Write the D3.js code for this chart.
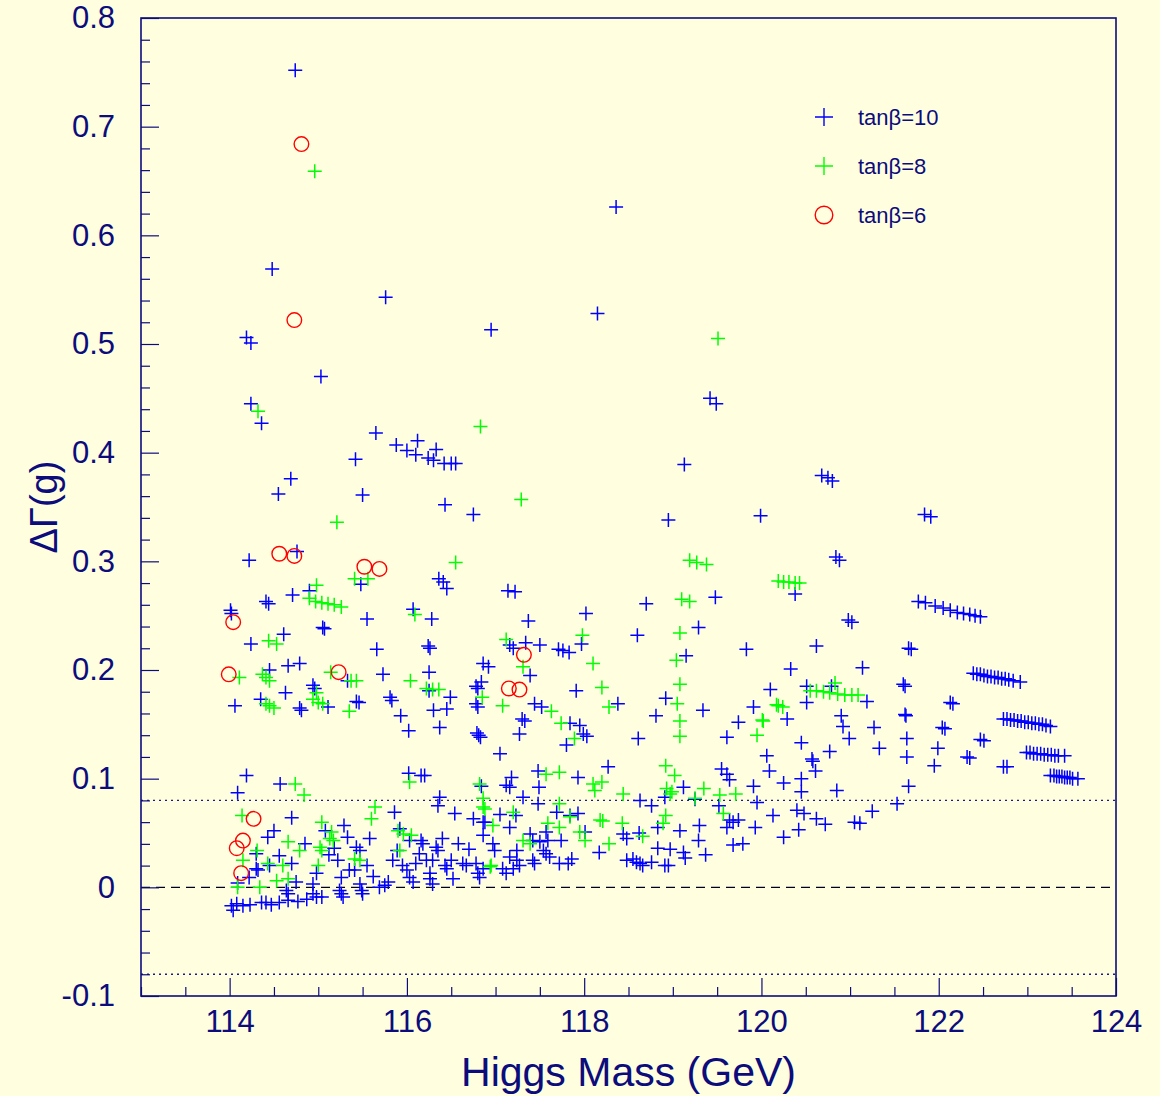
<!DOCTYPE html>
<html>
<head>
<meta charset="utf-8">
<script src="https://cdn.jsdelivr.net/npm/d3@7"></script>
<style>
  body { margin: 0; background: #ffffe0; }
  svg { display: block; font-family: "Liberation Sans", Arial, Helvetica, sans-serif; }
</style>
</head>
<body>
<svg id="chart" width="1160" height="1096"></svg>
<script>
// tan(beta)=10 points: [Higgs mass (GeV), Delta Gamma(g)]
const tb10 = [
  [114.74,0.752],[114.48,0.569],[118.36,0.626],[115.76,0.543],[118.15,0.528],[116.95,0.513],
  [114.19,0.506],[114.24,0.501],[115.03,0.470],[114.24,0.445],[114.36,0.427],[119.42,0.450],[119.49,0.445],
  [115.65,0.418],[115.88,0.407],[116.00,0.402],[116.12,0.411],[116.10,0.398],[116.24,0.395],[116.30,0.393],
  [116.33,0.403],[116.42,0.390],[116.50,0.390],[116.55,0.390],[115.42,0.394],[114.69,0.376],[114.55,0.362],
  [115.50,0.361],[119.13,0.389],[118.95,0.338],[119.99,0.342],[120.68,0.379],[120.75,0.377],[120.80,0.374],
  [121.84,0.343],[121.91,0.341],[116.43,0.352],[116.75,0.343],[114.76,0.309],[114.22,0.301],[115.48,0.279],
  [116.36,0.284],[116.41,0.281],[116.45,0.275],[114.90,0.273],[114.01,0.255],[114.02,0.252],[114.41,0.263],
  [114.44,0.261],[114.71,0.269],[115.05,0.239],[115.07,0.238],[115.55,0.247],[116.07,0.256],[116.28,0.247],
  [114.61,0.233],[114.24,0.224],[115.66,0.219],[116.24,0.222],[116.26,0.220],[116.86,0.206],[116.92,0.203],
  [114.45,0.200],[114.66,0.204],[114.79,0.206],[115.33,0.190],[115.73,0.196],[116.25,0.198],[116.25,0.181],
  [116.84,0.189],[116.78,0.185],[116.80,0.183],[116.49,0.175],[114.94,0.186],[114.96,0.183],[114.63,0.179],
  [114.35,0.173],[114.06,0.167],[115.11,0.166],[114.81,0.163],[114.79,0.165],[115.43,0.171],[115.46,0.170],
  [115.81,0.175],[115.83,0.172],[115.93,0.158],[116.02,0.144],[116.37,0.147],[116.30,0.163],[116.45,0.164],
  [116.81,0.140],[116.79,0.142],[116.83,0.138],[116.78,0.169],[116.80,0.166],[117.14,0.273],[117.22,0.272],
  [118.70,0.261],[119.48,0.267],[118.02,0.252],[117.37,0.245],[118.60,0.232],[119.29,0.239],[117.97,0.224],
  [117.16,0.223],[117.20,0.220],[117.34,0.225],[117.50,0.223],[117.71,0.219],[117.76,0.218],[117.83,0.216],
  [119.83,0.219],[119.15,0.213],[117.39,0.195],[117.91,0.181],[120.10,0.182],[118.92,0.174],[118.38,0.169],
  [119.91,0.166],[117.44,0.169],[117.52,0.166],[119.34,0.163],[118.81,0.158],[117.30,0.155],[117.33,0.153],
  [117.84,0.151],[117.95,0.149],[119.74,0.152],[117.27,0.141],[117.99,0.141],[118.03,0.139],[118.61,0.137],
  [119.61,0.138],[117.80,0.131],[121.02,0.244],[120.98,0.246],[120.62,0.222],[121.66,0.220],[121.69,0.219],
  [120.33,0.201],[121.14,0.202],
  [122.39,0.197],[122.43,0.196],[122.47,0.196],[122.51,0.195],[122.55,0.194],[122.59,0.194],[122.63,0.193],
  [122.67,0.193],[122.71,0.192],[122.75,0.192],[122.79,0.191],[122.84,0.190],[122.92,0.189],
  [120.51,0.185],[120.79,0.185],[120.51,0.170],[121.19,0.171],[121.60,0.187],[121.62,0.185],[122.13,0.170],
  [122.16,0.169],[120.29,0.155],[120.90,0.158],[120.92,0.148],[121.62,0.159],[121.63,0.158],[122.04,0.147],
  [122.07,0.146],
  [122.73,0.155],[122.77,0.155],[122.81,0.154],[122.85,0.154],[122.89,0.153],[122.93,0.153],[122.97,0.152],
  [123.01,0.152],[123.05,0.151],[123.09,0.151],[123.13,0.150],[123.17,0.150],[123.21,0.149],[123.26,0.148],
  [121.27,0.147],[120.99,0.137],[121.64,0.137],[120.45,0.133],[122.47,0.136],[122.51,0.135],[121.99,0.128],
  [121.33,0.128],[120.77,0.125],[120.06,0.121],
  [122.99,0.124],[123.03,0.124],[123.07,0.123],[123.11,0.123],[123.15,0.123],[123.19,0.122],[123.23,0.122],
  [123.27,0.122],[123.31,0.121],[123.35,0.121],[123.42,0.121],
  [120.57,0.118],[120.58,0.116],[122.32,0.120],[122.35,0.119],[121.64,0.120],[121.95,0.112],[122.73,0.111],
  [122.77,0.111],[120.09,0.107],[120.61,0.107],
  [123.26,0.103],[123.30,0.103],[123.33,0.102],[123.36,0.102],[123.39,0.102],[123.42,0.101],[123.45,0.101],
  [123.48,0.101],[123.51,0.100],[123.57,0.100],
  [120.45,0.100],[120.25,0.096],[121.66,0.093],[120.45,0.088],[120.85,0.089],[121.53,0.077],[121.25,0.070],
  [120.13,0.066],[120.40,0.071],[120.48,0.068],[120.62,0.063],[120.72,0.058],[121.05,0.060],[121.11,0.059],
  [120.42,0.053],[120.25,0.046],[120.84,0.304],[120.88,0.301],[120.38,0.270],
  [121.77,0.263],[121.85,0.262],[121.96,0.259],[122.05,0.257],[122.13,0.255],[122.21,0.253],[122.28,0.252],
  [122.35,0.251],[122.41,0.250],[122.47,0.249],
  [117.05,0.123],[118.27,0.111],[119.55,0.109],[119.61,0.104],[119.64,0.099],[117.48,0.107],[117.93,0.101],
  [117.18,0.101],[117.12,0.094],[117.16,0.092],[117.49,0.092],[119.12,0.092],[119.91,0.093],[117.31,0.083],
  [118.91,0.083],[119.25,0.081],[118.63,0.080],[117.48,0.077],[118.76,0.075],[119.52,0.075],[119.95,0.078],
  [117.69,0.069],[117.93,0.068],[117.84,0.066],[117.23,0.066],[119.64,0.062],[119.68,0.060],[119.74,0.062],
  [117.05,0.067],[116.88,0.060],[118.83,0.055],[119.30,0.057],[117.16,0.055],[119.61,0.055],[119.93,0.055],
  [118.01,0.051],[118.44,0.049],[118.48,0.045],[118.62,0.050],[119.08,0.052],[117.39,0.049],[117.42,0.043],
  [117.57,0.051],[117.59,0.043],[117.74,0.043],[119.29,0.043],[119.68,0.039],[119.79,0.040],[117.50,0.042],
  [117.54,0.034],[116.97,0.040],[116.99,0.034],[117.24,0.034],[118.83,0.036],[118.97,0.035],[119.12,0.032],
  [119.14,0.027],[118.17,0.032],[119.37,0.030],[117.57,0.031],[117.61,0.028],[117.16,0.028],[118.48,0.025],
  [118.55,0.026],[118.59,0.023],[117.86,0.026],[117.82,0.022],[117.72,0.022],[117.42,0.025],[117.44,0.022],
  [117.24,0.025],[117.27,0.020],[118.63,0.022],[118.66,0.020],[118.76,0.023],[118.91,0.020],[118.95,0.020],
  [117.08,0.017],[117.12,0.013],[117.20,0.017],[116.86,0.017],
  [114.19,0.103],[114.09,0.087],[114.57,0.095],[114.70,0.064],[114.43,0.046],[114.56,0.029],[114.70,0.022],
  [114.30,0.017],[114.22,0.009],[114.09,0.004],[114.75,0.005],[114.30,0.031],[114.45,0.020],[114.32,0.016],
  [114.02,-0.017],[114.08,-0.015],[114.15,-0.017],[114.23,-0.016],[114.36,-0.014],[114.41,-0.014],
  [114.47,-0.016],[114.56,-0.014],[114.66,-0.012],[114.77,-0.013],[114.87,-0.011],[114.04,-0.021],
  [114.64,-0.003],[114.66,-0.006],[114.94,-0.006],[114.98,-0.009],[115.04,-0.009],[114.94,0.003],[114.98,0.013],
  [115.29,0.057],[115.18,0.036],[115.22,0.025],[115.24,-0.003],[115.26,-0.006],[115.28,-0.009],[115.26,0.009],
  [115.43,0.037],[115.47,0.034],[115.35,0.016],[115.41,0.016],[115.47,0.003],[115.49,-0.003],[115.50,-0.006],
  [115.69,0.000],[115.75,0.002],[115.79,0.005],[115.58,0.045],[115.86,0.069],[115.92,0.054],[115.89,0.034],
  [115.84,0.025],[116.00,0.016],[116.03,0.009],[116.07,0.005],[116.03,0.043],[116.16,0.043],[116.18,0.040],
  [116.33,0.037],[116.35,0.034],[116.37,0.083],[116.35,0.075],[116.02,0.105],[116.16,0.103],[116.20,0.103],
  [116.54,0.068],[116.75,0.063],[116.86,0.060],[116.84,0.093],[116.86,0.048],[116.14,0.031],[116.22,0.025],
  [116.29,0.025],[116.26,0.013],[116.43,0.020],[116.45,0.017],[116.50,0.025],[116.63,0.022],[116.67,0.020],
  [116.78,0.022],[116.80,0.013],[116.82,0.009],[116.52,0.008],[116.26,0.008],[116.29,0.003],
  [115.12,0.030],[115.33,0.046],[115.55,0.020],[115.62,0.010],[115.95,0.020],[116.10,0.022],[116.40,0.045],
  [116.58,0.040],[116.70,0.035],[115.08,0.052],[114.85,0.040],[114.50,0.052]
];

// tan(beta)=8 points
const tb8 = [
  [114.96,0.659],[114.32,0.438],[116.83,0.424],[117.29,0.357],[115.21,0.336],[116.55,0.299],[115.41,0.284],
  [115.56,0.284],[114.98,0.278],[114.90,0.266],[114.97,0.263],[115.04,0.262],[115.11,0.261],[115.18,0.260],
  [115.26,0.258],[116.09,0.251],[114.44,0.227],[114.53,0.224],[114.11,0.193],[114.37,0.196],[114.41,0.193],
  [114.45,0.190],[115.14,0.198],[115.37,0.190],[115.43,0.190],[116.04,0.190],[116.22,0.183],[116.29,0.182],
  [116.36,0.182],[116.85,0.175],[114.98,0.179],[114.41,0.169],[114.45,0.167],[114.50,0.165],[114.94,0.173],
  [115.00,0.170],[115.05,0.169],[115.35,0.162],[119.51,0.505],[119.19,0.301],[119.27,0.299],[119.38,0.297],
  [120.19,0.282],[120.25,0.281],[120.31,0.281],[120.38,0.280],[120.43,0.280],[119.10,0.265],[119.19,0.263],
  [119.08,0.234],[117.98,0.232],[117.12,0.228],[119.04,0.209],[118.10,0.206],[117.31,0.203],[118.20,0.184],
  [119.08,0.187],[119.05,0.169],[118.28,0.166],[120.17,0.168],[117.63,0.162],[117.08,0.167],[119.08,0.153],
  [117.74,0.151],[120.01,0.154],[119.08,0.139],[119.95,0.140],[117.89,0.137],[120.55,0.181],[120.62,0.181],
  [120.70,0.180],[120.77,0.179],[120.86,0.178],[120.94,0.177],[121.02,0.177],[121.09,0.177],[120.83,0.188],
  [120.19,0.167],[120.24,0.166],[120.02,0.153],[118.92,0.112],[119.02,0.103],[117.57,0.104],[117.72,0.106],
  [118.10,0.095],[118.20,0.097],[118.12,0.089],[118.93,0.091],[118.99,0.088],[118.97,0.086],[119.35,0.091],
  [118.44,0.086],[119.53,0.085],[119.71,0.086],[119.25,0.082],[117.72,0.077],[116.86,0.074],[119.57,0.068],
  [117.20,0.069],[118.92,0.066],[117.84,0.065],[118.18,0.062],[118.21,0.061],[117.59,0.059],[116.97,0.057],
  [118.43,0.059],[118.89,0.059],[117.72,0.055],[117.95,0.051],[118.01,0.043],[118.66,0.047],[117.31,0.043],
  [117.39,0.040],[118.28,0.040],[116.94,0.019],[114.74,0.095],[114.84,0.085],[114.14,0.066],[114.66,0.042],
  [114.31,0.034],[114.79,0.034],[114.15,0.025],[114.43,0.022],[114.60,0.020],[114.66,0.008],[114.09,0.000],
  [114.34,0.000],[114.53,0.006],[115.00,0.020],[115.02,0.037],[115.04,0.034],[115.13,0.045],[115.17,0.043],
  [115.04,0.060],[115.15,0.051],[115.64,0.074],[115.60,0.063],[115.41,0.026],[115.47,0.025],[115.90,0.052],
  [115.96,0.049],[115.92,0.034],[116.05,0.048],[116.03,0.097],[116.82,0.095],[116.86,0.082],[116.88,0.072],
  [116.95,0.020]
];

// tan(beta)=6 points
const tb6 = [
  [114.81,0.684],[114.73,0.522],[114.56,0.307],[114.73,0.305],[115.52,0.295],[115.69,0.293],[114.04,0.244],
  [113.99,0.196],[115.23,0.198],[117.32,0.214],[117.15,0.183],[117.27,0.182],[114.27,0.063],[114.15,0.043],
  [114.08,0.036],[114.13,0.013]
];

const xMajor = [114, 116, 118, 120, 122, 124];
const yMajor = [-0.1, 0, 0.1, 0.2, 0.3, 0.4, 0.5, 0.6, 0.7, 0.8];
const legendLabels = ["tanβ=10", "tanβ=8", "tanβ=6"];

const navy = "#0c0c7c";
const svg = d3.select("#chart");

const x = d3.scaleLinear().domain([113, 124]).range([141, 1116]);
const y = d3.scaleLinear().domain([-0.1, 0.8]).range([996, 18]);

// minor tick positions
const xMinor = d3.range(113, 124.001, 0.5).filter(v => !xMajor.some(m => Math.abs(m - v) < 1e-6));
const yMinor = d3.range(-0.1, 0.8001, 0.02).filter(v => !yMajor.some(m => Math.abs(m - v) < 1e-6));

// reference lines
svg.append("line")
  .attr("x1", x(113)).attr("x2", x(124))
  .attr("y1", y(0)).attr("y2", y(0))
  .attr("stroke", "#000022").attr("stroke-width", 1.2)
  .attr("stroke-dasharray", "9,6");

[0.08, -0.08].forEach(v => {
  svg.append("line")
    .attr("x1", x(113)).attr("x2", x(124))
    .attr("y1", y(v)).attr("y2", y(v))
    .attr("stroke", "#1a1a8a").attr("stroke-width", 1.3)
    .attr("stroke-dasharray", "2,4");
});

// points
const cross = "M-7,0H7M0,-7V7";

svg.append("g").selectAll("path")
  .data(tb10).enter().append("path")
  .attr("d", cross)
  .attr("transform", d => `translate(${x(d[0])},${y(d[1])})`)
  .attr("stroke", "#0000ff").attr("stroke-width", 1.5).attr("fill", "none");

svg.append("g").selectAll("path")
  .data(tb8).enter().append("path")
  .attr("d", cross)
  .attr("transform", d => `translate(${x(d[0])},${y(d[1])})`)
  .attr("stroke", "#00ff00").attr("stroke-width", 1.5).attr("fill", "none");

svg.append("g").selectAll("circle")
  .data(tb6).enter().append("circle")
  .attr("cx", d => x(d[0])).attr("cy", d => y(d[1])).attr("r", 7.3)
  .attr("stroke", "#ff0000").attr("stroke-width", 1.4).attr("fill", "none");

// frame
svg.append("rect")
  .attr("x", x(113)).attr("y", y(0.8))
  .attr("width", x(124) - x(113)).attr("height", y(-0.1) - y(0.8))
  .attr("fill", "none").attr("stroke", navy).attr("stroke-width", 1.6);

// axes (ticks pointing inward like ROOT)
svg.append("g")
  .attr("transform", `translate(${x(113)},0)`)
  .call(d3.axisLeft(y).tickValues(yMajor).tickSizeInner(-18).tickSizeOuter(0).tickPadding(26)
    .tickFormat(d => Math.abs(d) < 1e-9 ? "0" : String(+d.toFixed(1))));
svg.append("g")
  .attr("transform", `translate(${x(113)},0)`)
  .call(d3.axisLeft(y).tickValues(yMinor).tickSizeInner(-9).tickSizeOuter(0).tickFormat(""));

svg.append("g")
  .attr("transform", `translate(0,${y(-0.1)})`)
  .call(d3.axisBottom(x).tickValues(xMajor).tickSizeInner(-18).tickSizeOuter(0).tickPadding(14)
    .tickFormat(d3.format("d")));
svg.append("g")
  .attr("transform", `translate(0,${y(-0.1)})`)
  .call(d3.axisBottom(x).tickValues(xMinor).tickSizeInner(-9).tickSizeOuter(0).tickFormat(""));

svg.selectAll(".domain").remove();
svg.selectAll(".tick line").attr("stroke", navy).attr("stroke-width", 1.2);
svg.selectAll(".tick text")
  .attr("fill", navy)
  .style("font-size", "31px")
  .style("font-family", "'Liberation Sans', Arial, sans-serif");

// axis titles
svg.append("text")
  .attr("x", (x(113) + x(124)) / 2).attr("y", 1086)
  .attr("text-anchor", "middle")
  .attr("fill", navy)
  .style("font-size", "41px")
  .text("Higgs Mass (GeV)");

svg.append("text")
  .attr("transform", `translate(57,${(y(0.8) + y(-0.1)) / 2}) rotate(-90)`)
  .attr("text-anchor", "middle")
  .attr("fill", navy)
  .style("font-size", "38px")
  .text("ΔΓ(g)");

// legend
const legend = svg.append("g");
const legendRows = [
  { label: legendLabels[0], color: "#0000ff", shape: "cross" },
  { label: legendLabels[1], color: "#00ff00", shape: "cross" },
  { label: legendLabels[2], color: "#ff0000", shape: "circle" }
];
legendRows.forEach((r, i) => {
  const cy = 117 + i * 49;
  if (r.shape === "cross") {
    legend.append("path")
      .attr("d", "M-9,0H9M0,-9V9")
      .attr("transform", `translate(824,${cy})`)
      .attr("stroke", r.color).attr("stroke-width", 1.4).attr("fill", "none");
  } else {
    legend.append("circle")
      .attr("cx", 824).attr("cy", cy).attr("r", 8.8)
      .attr("stroke", r.color).attr("stroke-width", 1.4).attr("fill", "none");
  }
  legend.append("text")
    .attr("x", 858).attr("y", cy + 8)
    .attr("fill", navy)
    .style("font-size", "22px")
    .text(r.label);
});
</script>
</body>
</html>
